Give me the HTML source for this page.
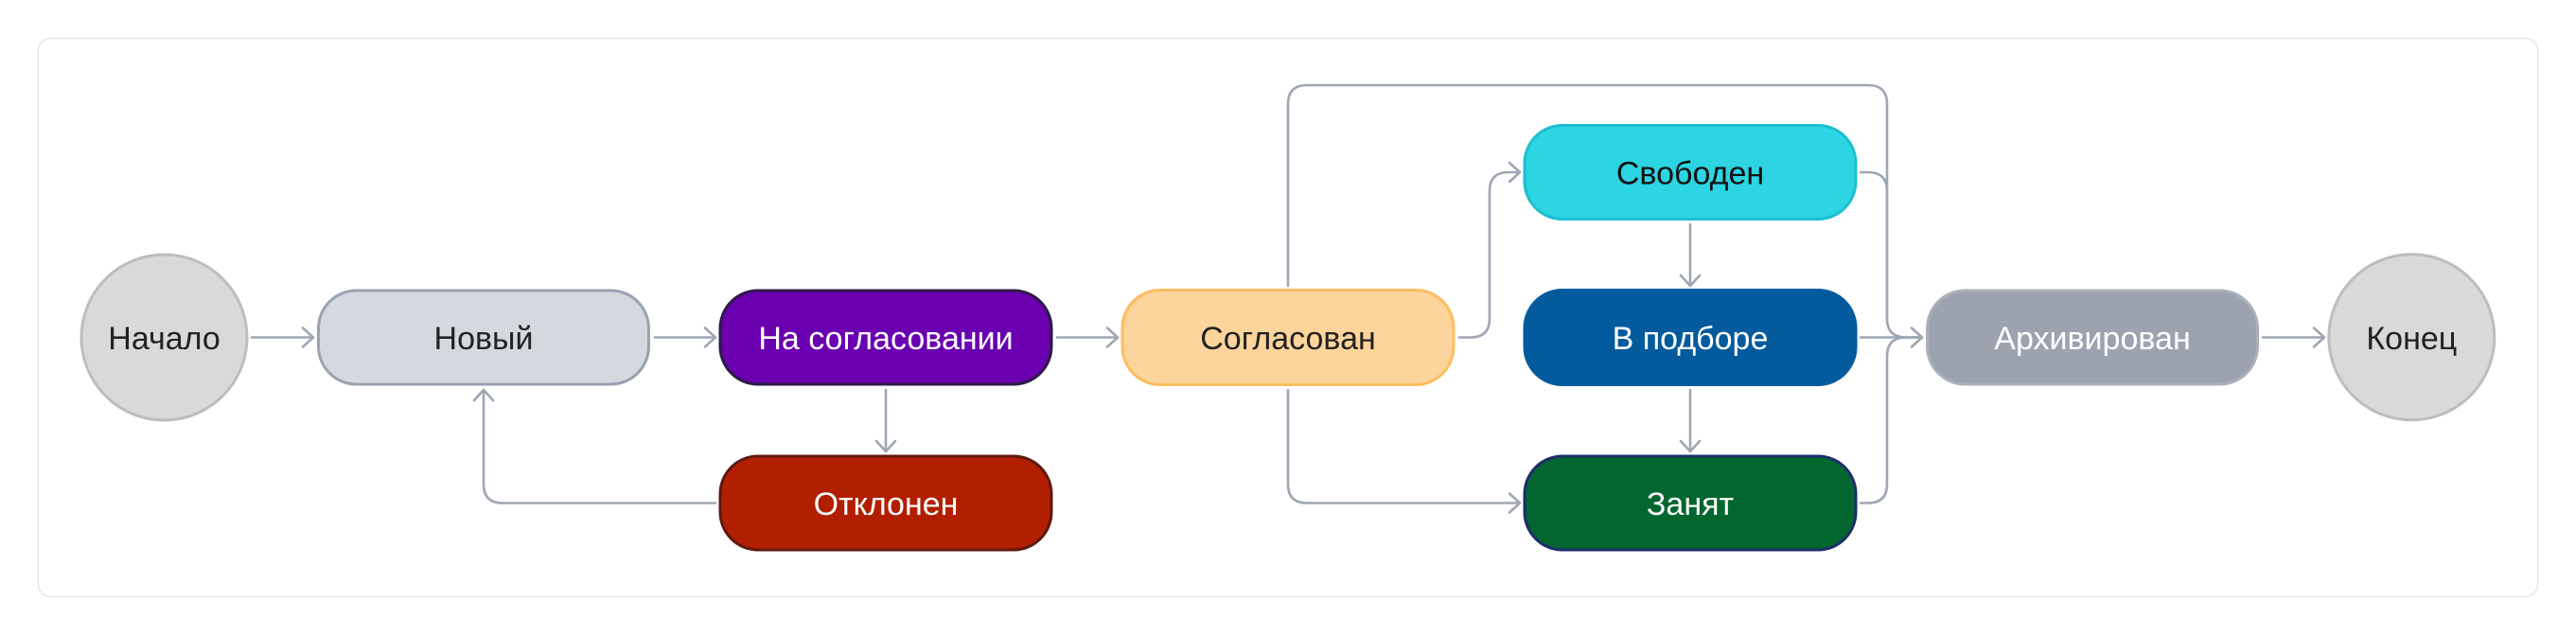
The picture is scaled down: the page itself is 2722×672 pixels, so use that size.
<!DOCTYPE html>
<html>
<head>
<meta charset="utf-8">
<style>
html,body{margin:0;padding:0;background:#ffffff;}
body{width:2722px;height:672px;overflow:hidden;}
svg{display:block;}
text{font-family:"Liberation Sans","DejaVu Sans",sans-serif;font-size:34px;text-anchor:middle;}
</style>
</head>
<body>
<svg width="2722" height="672" viewBox="0 0 2722 672" xmlns="http://www.w3.org/2000/svg">
  <!-- container -->
  <rect x="40.5" y="40.5" width="2641" height="590" rx="13" ry="13" fill="#ffffff" stroke="#e5e7eb" stroke-width="1.5"/>

  <!-- edges -->
  <g fill="none" stroke="#9fa6b3" stroke-width="2.6" stroke-linecap="round" stroke-linejoin="round">
    <!-- Начало -> Новый -->
    <path d="M266 356.5 H331"/>
    <path d="M320 346.5 L331 356.5 L320 366.5"/>
    <!-- Новый -> На согласовании -->
    <path d="M692 356.5 H756"/>
    <path d="M745 346.5 L756 356.5 L745 366.5"/>
    <!-- На согласовании -> Отклонен -->
    <path d="M936 412 V477"/>
    <path d="M926 466 L936 477 L946 466"/>
    <!-- Отклонен -> Новый -->
    <path d="M756 531.5 H531 Q511 531.5 511 511.5 V412"/>
    <path d="M501 423 L511 412 L521 423"/>
    <!-- На согласовании -> Согласован -->
    <path d="M1117 356.5 H1181"/>
    <path d="M1170 346.5 L1181 356.5 L1170 366.5"/>
    <!-- Согласован -> Свободен -->
    <path d="M1542 356.5 H1554 Q1574 356.5 1574 336.5 V202 Q1574 182 1594 182 H1606"/>
    <path d="M1595 172 L1606 182 L1595 192"/>
    <!-- Согласован -> Занят -->
    <path d="M1361 412 V511.5 Q1361 531.5 1381 531.5 H1606"/>
    <path d="M1595 521.5 L1606 531.5 L1595 541.5"/>
    <!-- Согласован -> Архивирован (top) -->
    <path d="M1361 302 V110 Q1361 90 1381 90 H1974 Q1994 90 1994 110 V336.5 Q1994 356.5 2014 356.5 H2031"/>
    <!-- Свободен -> Архивирован -->
    <path d="M1966 182 H1974 Q1994 182 1994 202 V336.5"/>
    <!-- В подборе -> Архивирован -->
    <path d="M1966 356.5 H2031"/>
    <!-- Занят -> Архивирован -->
    <path d="M1966 531.5 H1974 Q1994 531.5 1994 511.5 V376.5 Q1994 356.5 2014 356.5 H2031"/>
    <path d="M2020 346.5 L2031 356.5 L2020 366.5"/>
    <!-- Свободен -> В подборе -->
    <path d="M1786 237 V302"/>
    <path d="M1776 291 L1786 302 L1796 291"/>
    <!-- В подборе -> Занят -->
    <path d="M1786 412 V477"/>
    <path d="M1776 466 L1786 477 L1796 466"/>
    <!-- Архивирован -> Конец -->
    <path d="M2391 356.5 H2456"/>
    <path d="M2445 346.5 L2456 356.5 L2445 366.5"/>
  </g>

  <!-- start / end circles -->
  <circle cx="173.5" cy="356.5" r="87.5" fill="#d9d9d9" stroke="#bdbdbd" stroke-width="3"/>
  <text x="173.5" y="369" fill="#222222">Начало</text>
  <circle cx="2548.3" cy="356.3" r="87.5" fill="#d9d9d9" stroke="#bdbdbd" stroke-width="3"/>
  <text x="2548.3" y="369" fill="#222222">Конец</text>

  <!-- Новый -->
  <rect x="336.5" y="307" width="349" height="99" rx="40" ry="40" fill="#d5d9df" stroke="#9aa2b1" stroke-width="3"/>
  <text x="511" y="369" fill="#222222">Новый</text>

  <!-- На согласовании -->
  <rect x="761" y="307" width="350" height="99" rx="40" ry="40" fill="#6a00b0" stroke="#2e1a47" stroke-width="3"/>
  <text x="936" y="369" fill="#ffffff">На согласовании</text>

  <!-- Отклонен -->
  <rect x="761" y="482" width="350" height="99" rx="40" ry="40" fill="#b21f00" stroke="#5e1a12" stroke-width="3"/>
  <text x="936" y="544" fill="#ffffff">Отклонен</text>

  <!-- Согласован -->
  <rect x="1186" y="306.5" width="350" height="100" rx="40" ry="40" fill="#fdd49b" stroke="#fcbd60" stroke-width="3"/>
  <text x="1361" y="369" fill="#222222">Согласован</text>

  <!-- Свободен -->
  <rect x="1611" y="132.5" width="350" height="99" rx="40" ry="40" fill="#2dd4e2" stroke="#1cbfcf" stroke-width="3"/>
  <text x="1786" y="194.5" fill="#111111">Свободен</text>

  <!-- В подборе -->
  <rect x="1611" y="306.5" width="350" height="100" rx="40" ry="40" fill="#035a9c" stroke="#035a9c" stroke-width="3"/>
  <text x="1786" y="369" fill="#ffffff">В подборе</text>

  <!-- Занят -->
  <rect x="1611" y="482" width="350" height="99" rx="40" ry="40" fill="#03662f" stroke="#1c2f6b" stroke-width="3"/>
  <text x="1786" y="544" fill="#ffffff">Занят</text>

  <!-- Архивирован -->
  <rect x="2036.5" y="307" width="349" height="99" rx="40" ry="40" fill="#9ca3af" stroke="#a9afbb" stroke-width="3"/>
  <text x="2211" y="369" fill="#ffffff">Архивирован</text>
</svg>
</body>
</html>
